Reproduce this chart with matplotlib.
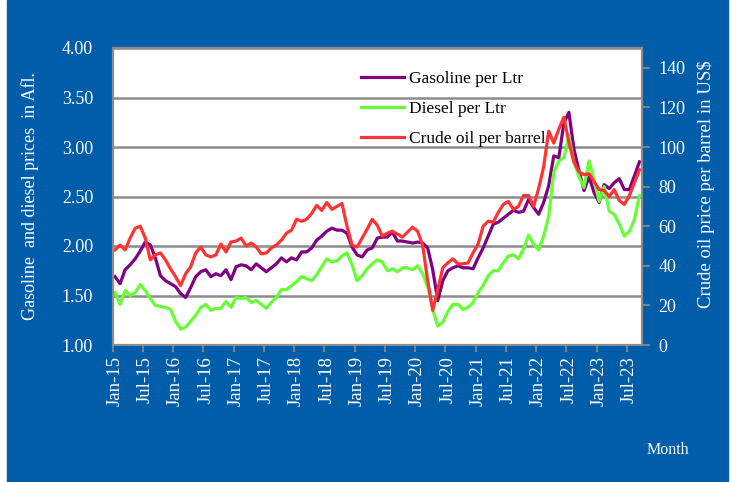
import matplotlib
matplotlib.use("Agg")
import matplotlib.pyplot as plt
import numpy as np
from matplotlib.patches import Rectangle

plt.rcParams['font.family'] = ['Liberation Serif', 'DejaVu Serif']

# monthly prices, Jan-15 .. Sep-23
gasoline = [1.69, 1.62, 1.76, 1.81, 1.87, 1.95, 2.04, 2.01, 1.88, 1.70, 1.65, 1.62, 1.59, 1.52, 1.48,
            1.58, 1.69, 1.74, 1.76, 1.69, 1.72,
            1.70, 1.76, 1.66, 1.79, 1.81, 1.80, 1.76, 1.82, 1.78, 1.74, 1.78, 1.82, 1.88, 1.84, 1.88,
            1.86, 1.94, 1.94, 1.98, 2.06, 2.10, 2.15,
            2.18, 2.16, 2.16, 2.13, 1.99, 1.91, 1.89, 1.96, 1.98, 2.08, 2.09, 2.09, 2.14, 2.05, 2.05,
            2.04, 2.03, 2.04, 2.03, 1.98, 1.76,
            1.45, 1.65, 1.75, 1.78, 1.80, 1.78, 1.78, 1.77, 1.88, 1.98, 2.10, 2.22, 2.24, 2.28, 2.32,
            2.36, 2.34, 2.35, 2.47, 2.39,
            2.32, 2.44, 2.61, 2.91, 2.89, 3.24, 3.35, 2.98, 2.76, 2.56, 2.70, 2.54, 2.44, 2.62, 2.58,
            2.64, 2.68, 2.57, 2.57, 2.71, 2.85]
diesel = [1.53, 1.41, 1.55, 1.50, 1.53, 1.61, 1.55, 1.47, 1.40, 1.39, 1.38, 1.36, 1.24, 1.16, 1.18,
          1.24, 1.30, 1.38, 1.41, 1.35, 1.37,
          1.37, 1.44, 1.38, 1.48, 1.47, 1.48, 1.43, 1.45, 1.41, 1.37, 1.43, 1.48, 1.56, 1.56, 1.60,
          1.64, 1.69, 1.67, 1.65, 1.71, 1.79, 1.87,
          1.84, 1.85, 1.90, 1.93, 1.81, 1.65, 1.70, 1.77, 1.82, 1.86, 1.84, 1.75, 1.77, 1.74, 1.78,
          1.78, 1.76, 1.80, 1.72, 1.59, 1.36,
          1.19, 1.23, 1.34, 1.41, 1.41, 1.36, 1.38, 1.43, 1.53, 1.60, 1.70, 1.75, 1.75, 1.83, 1.90,
          1.91, 1.87, 1.97, 2.11, 2.02,
          1.96, 2.10, 2.30, 2.74, 2.86, 2.89, 3.11, 2.85, 2.70, 2.59, 2.86, 2.67, 2.45, 2.60, 2.35,
          2.32, 2.22, 2.10, 2.15, 2.27, 2.51]
crude = [48, 50.5, 48, 54, 59, 60, 54, 43, 45.5, 46.5, 43, 38.5, 34.5, 30, 36, 39.5, 46.5, 49.5,
         45.5, 44.5, 45.5,
         51, 47, 52, 52.5, 54, 50, 51.5, 49.5, 46, 46.5, 49, 50.5, 53, 56.5, 58, 63.5, 62.5, 63.5,
         66.5, 70.5, 68, 72,
         68.5, 70, 71.5, 60, 50.5, 49.5, 54, 58.5, 63.5, 60.5, 55, 56.5, 57.5, 56, 54.5, 57, 59.5,
         57.5, 50.5, 32.5, 17.5,
         28, 39, 41.5, 43.5, 41, 41, 41.5, 46.5, 51, 60, 62.5, 62, 67, 71, 72.5, 68.5, 70, 75.5,
         75.5, 70, 79, 90, 108, 102, 109, 115, 102.5, 92.5, 87.5, 86, 86.5, 82.5, 78.5, 78, 75,
         78.5, 73, 71, 75.5, 82, 88.5]

xlabels = ['Jan-15', 'Jul-15', 'Jan-16', 'Jul-16', 'Jan-17', 'Jul-17', 'Jan-18', 'Jul-18', 'Jan-19',
           'Jul-19', 'Jan-20', 'Jul-20', 'Jan-21', 'Jul-21', 'Jan-22', 'Jul-22', 'Jan-23', 'Jul-23']

blue = '#005DAA'
grey = '#8c8c8c'

fig = plt.figure(figsize=(7.32, 4.82), dpi=100, facecolor='white')
fig.patches.append(Rectangle((7 / 732, 0), 721 / 732, 1, transform=fig.transFigure,
                             color=blue, zorder=-10))

ax = fig.add_axes([112.5 / 732, 137 / 482, 529.5 / 732, 297 / 482])
ax.set_facecolor('white')
x = np.arange(len(gasoline))
l1, = ax.plot(x, gasoline, color='#800080', lw=2.3, label='Gasoline per Ltr')
l2, = ax.plot(x, diesel, color='#66FF33', lw=2.3, label='Diesel per Ltr')
ax.set_ylim(1, 4)
ax.set_xlim(-0.5, len(gasoline) - 0.5)
ax.set_yticks(np.arange(1, 4.01, 0.5))
ax.yaxis.set_major_formatter('{x:.2f}')
ax.yaxis.grid(True, color=grey, lw=1.8)
ax.set_axisbelow(True)
ax.tick_params(axis='y', length=0, pad=14, labelcolor='white', labelsize=13)

tick_pos = np.arange(0, len(gasoline), 6)
ax.set_xticks(tick_pos - 0.5)
ax.set_xticklabels([])
ax.set_xticks(tick_pos, labels=xlabels, minor=True)
ax.tick_params(axis='x', which='major', length=5, width=1.2, color=grey)
ax.tick_params(axis='x', which='minor', length=0, pad=8, labelrotation=90,
               labelcolor='white', labelsize=13.5)

ax2 = ax.twinx()
l3, = ax2.plot(x, crude, color='#FF3333', lw=2.3, label='Crude oil per barrel')
ax2.set_ylim(0, 150)
ax2.set_yticks(range(0, 141, 20))
ax2.tick_params(axis='y', length=6, width=1.2, color=grey, pad=6,
                labelcolor='white', labelsize=13)

for a in (ax, ax2):
    for s in a.spines.values():
        s.set_color(grey)
        s.set_linewidth(1.5)

ax2.legend([l1, l2, l3], [l.get_label() for l in (l1, l2, l3)], loc='upper left',
           bbox_to_anchor=(0.469, 0.922), frameon=False, fontsize=12.5, handlelength=2.5,
           handletextpad=0.3, labelspacing=0.8, borderpad=0, borderaxespad=0)

fig.text(30 / 732, 1 - 196.5 / 482, 'Gasoline  and diesel prices  in Afl.', rotation=90,
         ha='center', va='center', color='white', fontsize=13)
fig.text(706 / 732, 1 - 184.5 / 482, 'Crude oil price per barrel in US$', rotation=90,
         ha='center', va='center', color='white', fontsize=13.5)
fig.text(668 / 732, 1 - 450 / 482, 'Month', ha='center', va='center', color='white',
         fontsize=11.5)

fig.savefig('out.png', dpi=100, facecolor=fig.get_facecolor())
